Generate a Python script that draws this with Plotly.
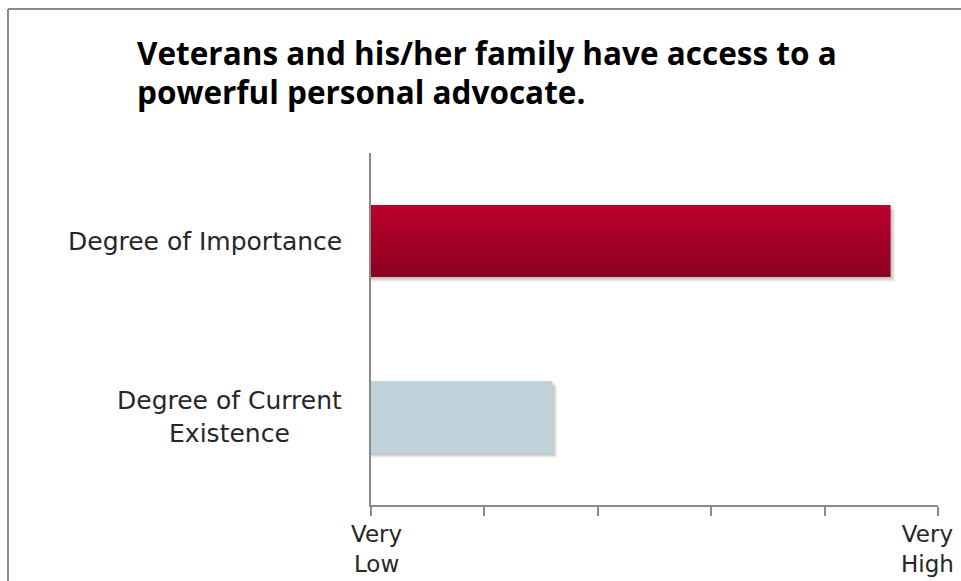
import plotly.graph_objects as go

# Survey item and its two ratings on a Very Low .. Very High scale
title_lines = ["Veterans and his/her family have access to a", "powerful personal advocate."]
categories = ["Degree of Current<br>Existence", "Degree of Importance"]
scores = [1.6, 4.58]
bar_colors = ["#C0D3DB", "#A80026"]
scale_ticks = [0, 1, 2, 3, 4, 5]
scale_labels = ["Very<br>Low", "", "", "", "", "Very<br>High"]

W, H = 961, 581
M_L, M_R, M_T, M_B = 371, 23, 153, 76
plot_w = W - M_L - M_R
plot_h = H - M_T - M_B
x_range = [scale_ticks[0], scale_ticks[-1]]
y_range = [-0.5, len(categories) - 0.5]
half = 0.205
px_x = (x_range[1] - x_range[0]) / plot_w
px_y = (y_range[1] - y_range[0]) / plot_h


def paper_x(px):
    return (px - M_L) / plot_w


def paper_y(py):
    return (H - M_B - py) / plot_h


positions = list(range(len(categories)))

fig = go.Figure()

# soft drop shadows, drawn first so the bars sit above them
for k, a in [(5, 0.04), (4, 0.05), (3, 0.06), (2, 0.08)]:
    fig.add_trace(go.Bar(
        y=positions, x=[v + k * px_x for v in scores], orientation="h",
        width=2 * half, offset=-half - k * px_y,
        marker=dict(color=f"rgba(0,0,0,{a})", line=dict(width=0)),
        hoverinfo="skip", showlegend=False))

fig.add_trace(go.Bar(
    y=positions, x=scores, orientation="h", width=2 * half, offset=-half,
    marker=dict(color=bar_colors, line=dict(width=0)),
    showlegend=False, hoverinfo="x"))

# vertical red gradient on the importance bar
imp = 1
fig.add_trace(go.Scatter(
    x=[0, scores[imp], scores[imp], 0, 0],
    y=[imp - half, imp - half, imp + half, imp + half, imp - half],
    fill="toself", mode="none",
    fillgradient=dict(type="vertical", colorscale=[[0, "#8C001F"], [1, "#BC002C"]]),
    hoverinfo="skip", showlegend=False))

font_main = "DejaVu Sans"
text_col = "#262626"

# category labels left of the value axis
for pos, name in zip(positions, categories):
    fig.add_annotation(x=paper_x(344), xref="paper", y=pos, yref="y",
                       text=name, showarrow=False, xanchor="right", yanchor="middle",
                       align="center", font=dict(family=font_main, size=25, color=text_col))

# scale end labels, nudged inward so they stay inside the frame
for tv, tl in zip(scale_ticks, scale_labels):
    if not tl:
        continue
    shift = 5 if tv == scale_ticks[0] else -11
    fig.add_annotation(x=tv, xref="x", y=paper_y(519), yref="paper",
                       text=tl, showarrow=False, xanchor="center", yanchor="top",
                       xshift=shift, align="center",
                       font=dict(family=font_main, size=23, color=text_col))

# two-line title, placed line by line
for line, ypx in zip(title_lines, [53, 91]):
    fig.add_annotation(x=paper_x(135), xref="paper", y=paper_y(ypx), yref="paper",
                       text=f"<b>{line}</b>", showarrow=False, xanchor="left", yanchor="middle",
                       font=dict(family="Open Sans", size=31.5, color="black"))

fig.update_xaxes(range=x_range, tickvals=scale_ticks, showticklabels=False,
                 showline=True, linecolor="#8a8a8a", linewidth=2,
                 ticks="outside", ticklen=9, tickwidth=2, tickcolor="#8a8a8a",
                 automargin=False, showgrid=False, zeroline=False, fixedrange=True)
fig.update_yaxes(range=y_range, showticklabels=False, showline=True,
                 linecolor="#8a8a8a", linewidth=2, ticks="", automargin=False,
                 showgrid=False, zeroline=False, fixedrange=True)

# outer frame (top and left edges)
fig.add_shape(type="line", xref="paper", yref="paper", x0=paper_x(8), x1=paper_x(8),
              y0=paper_y(H + 5), y1=paper_y(9), line=dict(color="#8a8a8a", width=2))
fig.add_shape(type="line", xref="paper", yref="paper", x0=paper_x(8), x1=paper_x(W + 5),
              y0=paper_y(9), y1=paper_y(9), line=dict(color="#8a8a8a", width=2))

fig.update_layout(
    width=W, height=H,
    margin=dict(l=M_L, r=M_R, t=M_T, b=M_B, autoexpand=False),
    paper_bgcolor="white", plot_bgcolor="white",
    barmode="overlay",
)

fig.write_html("out.html")
